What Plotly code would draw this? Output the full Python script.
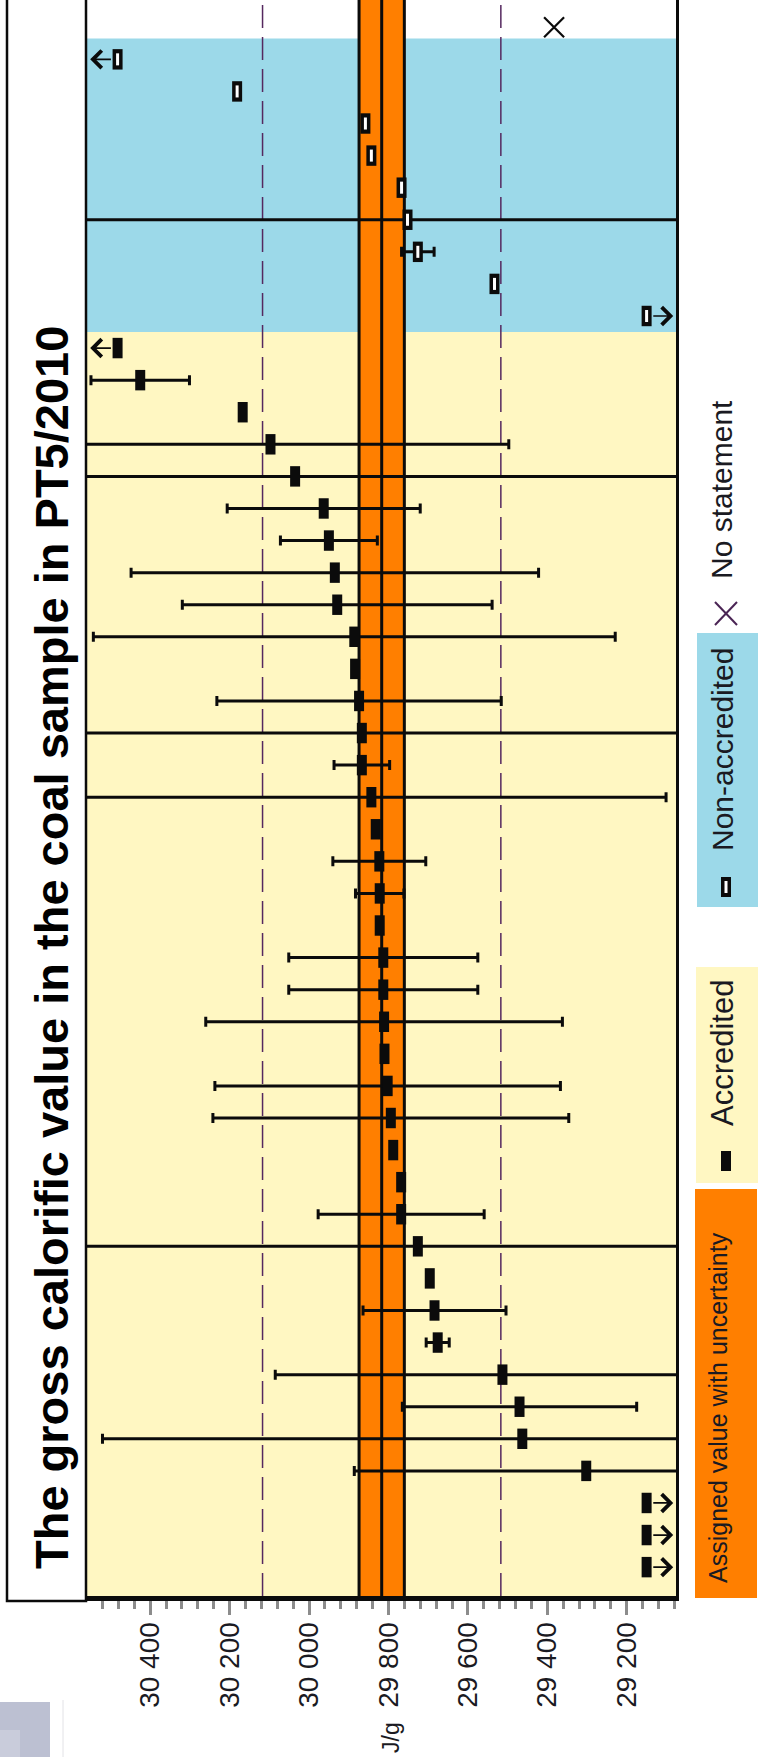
import numpy as np
import plotly.graph_objects as go

# ---------------- data (rows listed from the bottom of the chart to the top) ----------------
row_index = list(range(1, 50))

# laboratory results, J/g (values beyond the axis are estimates; they are shown as arrows)
lab_result = [
    28900, 28950, 29000,
    29302, 29463, 29470, 29513, 29676, 29684, 29696, 29726, 29768, 29768,
    29788, 29794, 29802, 29810, 29811, 29813, 29813, 29822, 29822, 29823,
    29832, 29843, 29867, 29867, 29874, 29884, 29886, 29929, 29935, 29950,
    29963, 30035, 30097, 30167, 30425, 30700,
    28950, 29533, 29726, 29752, 29767, 29843, 29858, 30181, 30750,
    29383,
]

# expanded uncertainty stated by the laboratory, J/g (None = not stated)
lab_uncertainty = [
    None, None, None,
    584, 1057, 295, 572, 29, 180, None, 1000, 209, None,
    None, 448, 435, None, 449, 238, 238, None, 61, 117,
    None, 742, 70, 1000, 358, None, 657, 390, 513, 122,
    243, 1000, 600, None, 124, None,
    None, None, 41, 1000, None, None, None, None, None,
    None,
]

# A = accredited, N = non-accredited, X = no statement
lab_status = [
    'A', 'A', 'A',
    'A', 'A', 'A', 'A', 'A', 'A', 'A', 'A', 'A', 'A',
    'A', 'A', 'A', 'A', 'A', 'A', 'A', 'A', 'A', 'A',
    'A', 'A', 'A', 'A', 'A', 'A', 'A', 'A', 'A', 'A',
    'A', 'A', 'A', 'A', 'A', 'A',
    'N', 'N', 'N', 'N', 'N', 'N', 'N', 'N', 'N',
    'X',
]

assigned_value = 29817
assigned_uncertainty = 57
tolerance = 300

tick_values = [29200, 29400, 29600, 29800, 30000, 30200, 30400]
tick_labels = ['29 200', '29 400', '29 600', '29 800', '30 000', '30 200', '30 400']

title_text = 'The gross calorific value in the coal sample in PT5/2010'
axis_title = 'J/g'
legend_labels = ['No statement', 'Non-accredited', 'Accredited', 'Assigned value with uncertainty']

# ---------------- styling constants ----------------
FONT = 'Liberation Sans, Arial, Helvetica, sans-serif'
BLACK = '#0b0b0b'
YELLOW = '#FFF7C2'
BLUE = '#9CD9E9'
ORANGE = '#FF7F00'
DASH_COLOR = '#55285f'
TEXT = '#1a1a22'

X_RANGE = [30559, 29076]
Y_RANGE = [0.1, 49.85]
HIGH_SHOW, LOW_SHOW = 30482, 29150
HIGH_TIP, LOW_TIP = 30551, 29083
MARK_HALF = 13

W, H = 758, 1757
PL, PR, PT, PB = 87, 676, 0, 1596


def fx(px):
    return (px - PL) / (PR - PL)


def fy(py):
    return (PB - py) / (PB - PT)


res = np.array(lab_result, dtype=float)
x_show = np.clip(res, LOW_SHOW, HIGH_SHOW)


def idx_of(code):
    return [i for i, s in enumerate(lab_status) if s == code]


fig = go.Figure()

# group boundaries (between accredited / non-accredited / no statement rows)
acc_rows = [row_index[i] for i in idx_of('A')]
non_rows = [row_index[i] for i in idx_of('N')]
acc_top = (max(acc_rows) + min(non_rows)) / 2.0
non_top = max(non_rows) + 0.65

shapes = []
shapes.append(dict(type='rect', xref='paper', yref='y', x0=0, x1=1, y0=Y_RANGE[0], y1=acc_top,
                   fillcolor=YELLOW, line=dict(width=0), layer='below'))
shapes.append(dict(type='rect', xref='paper', yref='y', x0=0, x1=1, y0=acc_top, y1=non_top,
                   fillcolor=BLUE, line=dict(width=0), layer='below'))
shapes.append(dict(type='rect', xref='x', yref='paper', x0=assigned_value - assigned_uncertainty,
                   x1=assigned_value + assigned_uncertainty, y0=0, y1=1,
                   fillcolor=ORANGE, line=dict(width=0), layer='below'))
for v in [assigned_value - assigned_uncertainty, assigned_value, assigned_value + assigned_uncertainty]:
    shapes.append(dict(type='line', xref='x', yref='paper', x0=v, x1=v, y0=0, y1=1,
                       line=dict(color=BLACK, width=3), layer='below'))
for v in [assigned_value - tolerance, assigned_value + tolerance]:
    shapes.append(dict(type='line', xref='x', yref='paper', x0=v, x1=v, y0=0, y1=1,
                       line=dict(color=DASH_COLOR, width=1.5, dash='23px,9px'), layer='below'))

# title box
shapes.append(dict(type='rect', xref='paper', yref='paper', x0=fx(7), x1=fx(86), y0=fy(1601), y1=fy(-10),
                   fillcolor='white', line=dict(color=BLACK, width=2.5), layer='above'))
# decorative grey block bottom-left
shapes.append(dict(type='rect', xref='paper', yref='paper', x0=fx(-2), x1=fx(50), y0=fy(1760), y1=fy(1702),
                   fillcolor='#bcc0d2', line=dict(width=0), layer='above'))
shapes.append(dict(type='rect', xref='paper', yref='paper', x0=fx(-2), x1=fx(20), y0=fy(1760), y1=fy(1730),
                   fillcolor='#c9ccdb', line=dict(width=0), layer='above'))
shapes.append(dict(type='line', xref='paper', yref='paper', x0=fx(63), x1=fx(63), y0=fy(1757), y1=fy(1700),
                   line=dict(color='#e2e2e6', width=1), layer='above'))

# legend boxes
shapes.append(dict(type='rect', xref='paper', yref='paper', x0=fx(697), x1=fx(762), y0=fy(907), y1=fy(633),
                   fillcolor=BLUE, line=dict(width=0)))
shapes.append(dict(type='rect', xref='paper', yref='paper', x0=fx(696), x1=fx(762), y0=fy(1183), y1=fy(967),
                   fillcolor=YELLOW, line=dict(width=0)))
shapes.append(dict(type='rect', xref='paper', yref='paper', x0=fx(695), x1=fx(757), y0=fy(1598), y1=fy(1189),
                   fillcolor=ORANGE, line=dict(width=0)))
# legend symbols
shapes.append(dict(type='line', xref='paper', yref='paper', x0=fx(715), x1=fx(737), y0=fy(602), y1=fy(625),
                   line=dict(color='#4a2454', width=2)))
shapes.append(dict(type='line', xref='paper', yref='paper', x0=fx(715), x1=fx(737), y0=fy(625), y1=fy(602),
                   line=dict(color='#4a2454', width=2)))
shapes.append(dict(type='rect', xref='paper', yref='paper', x0=fx(721), x1=fx(731), y0=fy(897), y1=fy(877),
                   fillcolor=BLACK, line=dict(width=0)))
shapes.append(dict(type='rect', xref='paper', yref='paper', x0=fx(724.5), x1=fx(727.5), y0=fy(893), y1=fy(881),
                   fillcolor='white', line=dict(width=0)))
shapes.append(dict(type='rect', xref='paper', yref='paper', x0=fx(721), x1=fx(731), y0=fy(1171), y1=fy(1151),
                   fillcolor=BLACK, line=dict(width=0)))

# ---------------- traces ----------------
for code in ['A', 'N']:
    idx = idx_of(code)
    fig.add_trace(go.Scatter(
        x=x_show[idx], y=[row_index[i] for i in idx], mode='markers',
        marker=dict(symbol='line-ns', size=14.6, color=BLACK, line=dict(width=10, color=BLACK)),
        error_x=dict(type='data', array=[lab_uncertainty[i] for i in idx], symmetric=True,
                     color=BLACK, thickness=3, width=5),
        hoverinfo='skip', cliponaxis=True))

idx = idx_of('N')
fig.add_trace(go.Scatter(
    x=x_show[idx], y=[row_index[i] for i in idx], mode='markers',
    marker=dict(symbol='line-ns', size=8.6, color='white', line=dict(width=3, color='white')),
    hoverinfo='skip'))

idx = idx_of('X')
fig.add_trace(go.Scatter(
    x=x_show[idx], y=[row_index[i] for i in idx], mode='markers',
    marker=dict(symbol='x-thin', size=20, color=BLACK, line=dict(width=2.2, color=BLACK)),
    hoverinfo='skip'))

# ---------------- annotations ----------------
annotations = []
for i, v in enumerate(lab_result):
    if v > HIGH_SHOW:
        tip, tail = HIGH_TIP, HIGH_SHOW + MARK_HALF
    elif v < LOW_SHOW:
        tip, tail = LOW_TIP, LOW_SHOW - MARK_HALF
    else:
        continue
    annotations.append(dict(x=tip, y=row_index[i], ax=tail, ay=row_index[i], xref='x', yref='y',
                            axref='x', ayref='y', text='', showarrow=True, arrowhead=4,
                            arrowsize=2.0, arrowwidth=1.7, arrowcolor=BLACK,
                            standoff=0, startstandoff=0))

annotations.append(dict(x=fx(51), y=fy(948), xref='paper', yref='paper', text='<b>' + title_text + '</b>',
                        textangle=-90, showarrow=False, xanchor='center', yanchor='middle',
                        font=dict(family=FONT, size=47, color='black')))
annotations.append(dict(x=fx(391), y=fy(1738), xref='paper', yref='paper', text=axis_title,
                        textangle=-90, showarrow=False, xanchor='center', yanchor='middle',
                        font=dict(family=FONT, size=23, color=TEXT)))

legend_pos = [(722, 490, 30), (722, 750, 30), (722, 1053, 31), (718, 1408, 25)]
for lab, (lx, ly, fs) in zip(legend_labels, legend_pos):
    annotations.append(dict(x=fx(lx), y=fy(ly), xref='paper', yref='paper', text=lab,
                            textangle=-90, showarrow=False, xanchor='center', yanchor='middle',
                            font=dict(family=FONT, size=fs, color=TEXT)))

fig.update_layout(
    width=W, height=H,
    margin=dict(l=PL, r=W - PR, t=PT, b=H - PB, pad=0),
    paper_bgcolor='white', plot_bgcolor='white',
    showlegend=False,
    font=dict(family=FONT, color=TEXT),
    shapes=shapes,
    annotations=annotations,
    xaxis=dict(
        range=X_RANGE, tickmode='array', tickvals=tick_values, ticktext=tick_labels,
        tickangle=-90, ticks='outside', ticklen=14, tickwidth=3, tickcolor='#8c8c8c',
        tickfont=dict(family=FONT, size=28, color=TEXT), ticklabelstandoff=-4,
        showline=True, linecolor=BLACK, linewidth=5, showgrid=False, zeroline=False,
        minor=dict(tickmode='linear', tick0=29200, dtick=40, ticks='outside', ticklen=8,
                   tickwidth=3, tickcolor='#8c8c8c', showgrid=False),
        automargin=False,
    ),
    yaxis=dict(
        range=Y_RANGE, showticklabels=False, ticks='', showgrid=False, zeroline=False,
        showline=True, linecolor=BLACK, linewidth=3, mirror=True, automargin=False,
    ),
)

fig.write_html('out.html', config={'displayModeBar': False},
               post_script="document.body.style.margin='0';document.body.style.padding='0';"
                           "document.body.style.overflow='hidden';")
